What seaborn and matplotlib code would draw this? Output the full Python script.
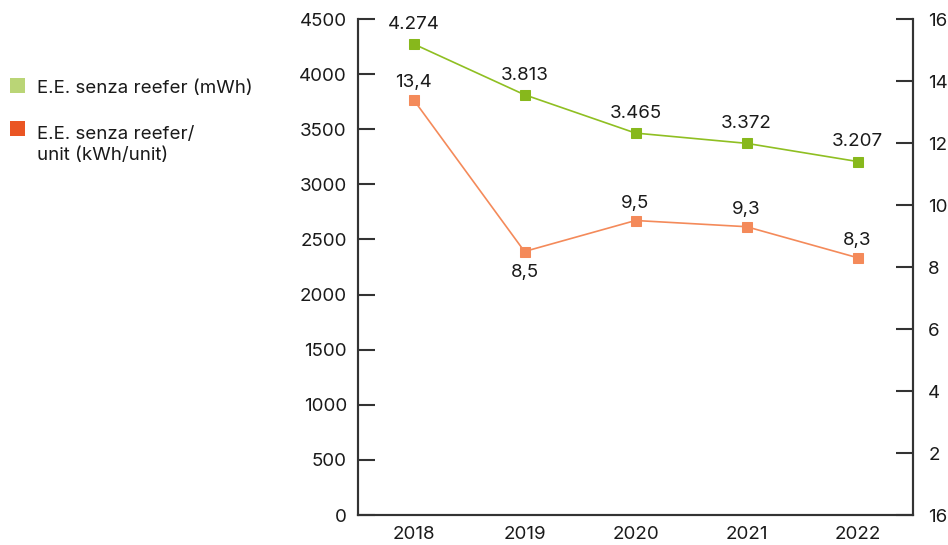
import matplotlib
matplotlib.use("Agg")
import matplotlib.pyplot as plt
from matplotlib.patches import Rectangle
from matplotlib.ticker import FixedLocator, NullFormatter
import seaborn as sns
import pandas as pd

# Data
years = ["2018", "2019", "2020", "2021", "2022"]
energy_mwh = [4274, 3813, 3465, 3372, 3207]
energy_per_unit = [13.4, 8.5, 9.5, 9.3, 8.3]
energy_labels = ["4.274", "3.813", "3.465", "3.372", "3.207"]
unit_labels = ["13,4", "8,5", "9,5", "9,3", "8,3"]
unit_label_above = [True, False, True, True, True]

left_ticks = [0, 500, 1000, 1500, 2000, 2500, 3000, 3500, 4000, 4500]
right_ticks = [0, 2, 4, 6, 8, 10, 12, 14, 16]
right_tick_labels = ["16", "2", "4", "6", "8", "10", "12", "14", "16"]

legend_labels = ["E.E. senza reefer (mWh)", "E.E. senza reefer/\nunit (kWh/unit)"]

sns.set_style("white")
plt.rcParams["font.family"] = ["Inter", "DejaVu Sans"]

GREEN_LINE = "#8fbf22"
GREEN_MARK = "#87b81c"
ORANGE_LINE = "#f48a5a"
ORANGE_MARK = "#f48a5a"
GREEN_LEG = "#bad576"
ORANGE_LEG = "#ea5523"
TXT = "#1a1a1a"
AX = "#333333"
FS = 13.5

df = pd.DataFrame({
    "pos": range(len(years)),
    "year": years,
    "mwh": energy_mwh,
    "unit": energy_per_unit,
})

fig = plt.figure(figsize=(9.48, 5.45), dpi=100)
ax = fig.add_axes([358 / 948, 1 - 515 / 545, (913 - 358) / 948, (515 - 19) / 545])
ax2 = ax.twinx()

sns.lineplot(data=df, x="pos", y="mwh", ax=ax, color=GREEN_LINE, linewidth=1.2,
             marker="s", markersize=7, markerfacecolor=GREEN_MARK,
             markeredgecolor=GREEN_MARK, zorder=3)
sns.lineplot(data=df, x="pos", y="unit", ax=ax2, color=ORANGE_LINE, linewidth=1.2,
             marker="s", markersize=7, markerfacecolor=ORANGE_MARK,
             markeredgecolor=ORANGE_MARK, zorder=3)

ax.set_xlim(-0.5, len(years) - 0.5)
ax.set_ylim(0, 4500)
ax2.set_ylim(0, 16)

ax.set_xlabel("")
ax.set_ylabel("")
ax2.set_ylabel("")

# x axis: year labels centred, tick marks between categories
ax.set_xticks(range(len(years)))
ax.set_xticklabels(years, fontsize=FS, color=TXT)
ax.tick_params(axis="x", which="major", length=0, pad=8)
ax.xaxis.set_minor_locator(FixedLocator([i + 0.5 for i in range(len(years) - 1)]))
ax.xaxis.set_minor_formatter(NullFormatter())
ax.tick_params(axis="x", which="minor", direction="in", length=12, width=1.5, color=AX)

ax.set_yticks(left_ticks)
ax.set_yticklabels([str(t) for t in left_ticks], fontsize=FS, color=TXT)
ax.tick_params(axis="y", direction="in", length=12, width=1.5, color=AX, pad=8)

ax2.set_yticks(right_ticks)
ax2.set_yticklabels(right_tick_labels, fontsize=FS, color=TXT)
ax2.tick_params(axis="y", direction="in", length=12, width=1.5, color=AX, pad=11)

for a in (ax, ax2):
    a.spines["top"].set_visible(False)
    for s in ("left", "right", "bottom"):
        a.spines[s].set_color(AX)
        a.spines[s].set_linewidth(1.5)
    a.grid(False)

# value labels
for i, (v, lab) in enumerate(zip(energy_mwh, energy_labels)):
    ax.annotate(lab, (i, v), xytext=(0, 8), textcoords="offset points",
                ha="center", va="bottom", fontsize=FS, color=TXT)
for i, (v, lab, up) in enumerate(zip(energy_per_unit, unit_labels, unit_label_above)):
    ax2.annotate(lab, (i, v), xytext=(0, 6 if up else -9), textcoords="offset points",
                 ha="center", va="bottom" if up else "top", fontsize=FS, color=TXT)

# legend
H = 545.0
W = 948.0
fig.add_artist(Rectangle((10 / W, 1 - 93 / H), 15 / W, 15 / H,
                         transform=fig.transFigure, color=GREEN_LEG, lw=0))
fig.add_artist(Rectangle((10 / W, 1 - 136 / H), 15 / W, 15 / H,
                         transform=fig.transFigure, color=ORANGE_LEG, lw=0))
fig.text(37 / W, 1 - 93 / H, legend_labels[0], fontsize=FS, color=TXT,
         ha="left", va="baseline")
fig.text(37 / W, 1 - 160 / H, legend_labels[1], fontsize=FS, color=TXT,
         ha="left", va="baseline", linespacing=1.3)

fig.savefig("out.png", dpi=100)
